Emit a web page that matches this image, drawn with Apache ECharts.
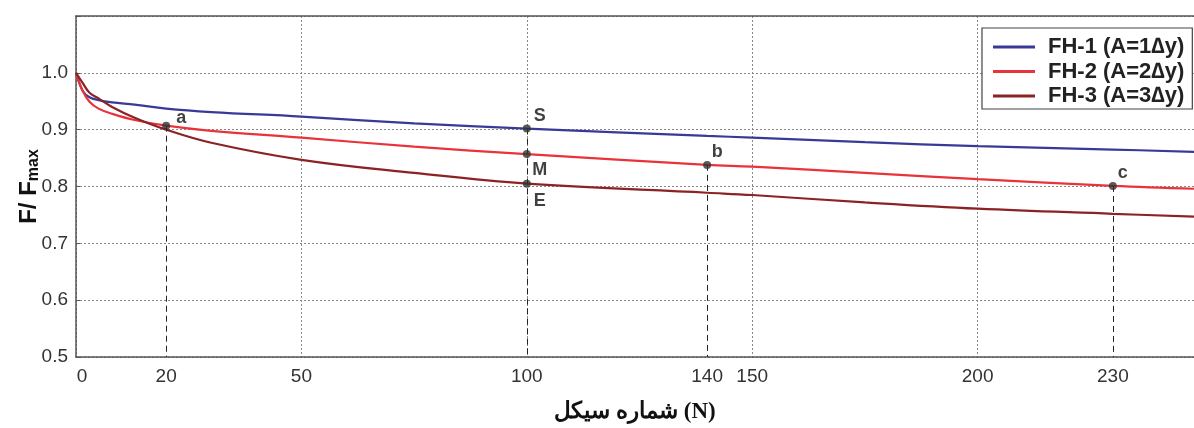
<!DOCTYPE html>
<html>
<head>
<meta charset="utf-8">
<style>html,body{margin:0;padding:0;background:#fff;}#chart{width:1194px;height:428px;}</style>
<script src="https://cdn.jsdelivr.net/npm/echarts@6/dist/echarts.min.js"></script>
</head>
<body>
<div id="chart"></div>
<script>
// ---- data ----
const cycles = [0, 1.5, 3, 5, 8, 13, 20, 30, 50, 75, 100, 140, 150, 175, 200, 230, 248];
const fh1 = [1.0, 0.968, 0.957, 0.952, 0.948, 0.944, 0.937, 0.931, 0.923, 0.911, 0.902, 0.889, 0.886, 0.878, 0.871, 0.865, 0.861];
const fh2 = [1.0, 0.968, 0.949, 0.937, 0.928, 0.917, 0.907, 0.898, 0.886, 0.870, 0.857, 0.838, 0.835, 0.824, 0.813, 0.801, 0.796];
const fh3 = [1.0, 0.982, 0.965, 0.955, 0.940, 0.921, 0.900, 0.877, 0.847, 0.824, 0.805, 0.789, 0.785, 0.772, 0.761, 0.752, 0.747];
const seriesNames = ['FH-1 (A=1\u2206y)', 'FH-2 (A=2\u2206y)', 'FH-3 (A=3\u2206y)'];
const xTickLabels = [0, 20, 50, 100, 140, 150, 200, 230];
const yTickLabels = [0.5, 0.6, 0.7, 0.8, 0.9, 1.0];
const pointNames = ['a', 'S', 'M', 'E', 'b', 'c'];
const pointN = [20, 100, 100, 100, 140, 230];
const pointF = [0.907, 0.902, 0.857, 0.805, 0.838, 0.801];
const dropNames = ['a', 'S', 'b', 'c'];

const colors = ['#383a98', '#e8333b', '#8c2224'];
const labelOffsets = {a: [15, -8], S: [13, -12], M: [13, 16], E: [13, 17], b: [10, -13], c: [10, -13]};

const toPairs = ys => cycles.map((n, i) => [n, ys[i]]);
const lineSeries = [fh1, fh2, fh3].map((ys, i) => ({
  name: seriesNames[i], type: 'line', data: toPairs(ys), smooth: 0.4,
  showSymbol: false, lineStyle: {color: colors[i], width: 2.2}, itemStyle: {color: colors[i]}, z: 3
}));

const dropLines = dropNames.map(nm => {
  const k = pointNames.indexOf(nm);
  return [{coord: [pointN[k], pointF[k]]}, {coord: [pointN[k], 0.5]}];
});

const pointData = pointNames.map((nm, k) => ({
  name: nm, value: [pointN[k], pointF[k]],
  label: {position: [4 + labelOffsets[nm][0], 4 + labelOffsets[nm][1]]}
}));

const chart = echarts.init(document.getElementById('chart'), null, {renderer: 'canvas'});
chart.setOption({
  animation: false,
  backgroundColor: '#fff',
  grid: {left: 76, right: 0, top: 16, bottom: 71, containLabel: false, outerBoundsMode: 'none'},
  legend: {
    data: seriesNames, orient: 'vertical', left: 982, top: 28,
    backgroundColor: '#fff', borderColor: '#444', borderWidth: 1.2,
    padding: [8, 8, 2, 11], itemGap: 2.5, itemWidth: 42, itemHeight: 3, icon: 'rect',
    textStyle: {fontFamily: 'Liberation Sans, Arial, sans-serif', fontWeight: 'bold', fontSize: 22, color: '#222', lineHeight: 22, padding: [0, 0, 0, 8]}
  },
  xAxis: [{
    type: 'value', min: 0, max: 248, interval: 50,
    name: '\u0634\u0645\u0627\u0631\u0647 \u0633\u06CC\u06A9\u0644 (N)', nameLocation: 'middle', nameGap: 44, nameMoveOverlap: false,
    nameTextStyle: {fontFamily: 'Liberation Serif, DejaVu Serif, serif', fontWeight: 'bold', fontSize: 23, color: '#111'},
    axisLine: {show: true, lineStyle: {color: '#555', width: 1.5}},
    axisTick: {show: false},
    axisLabel: {customValues: xTickLabels, fontFamily: 'Liberation Sans, Arial, sans-serif', fontSize: 19, color: '#333', margin: 10,
      formatter: v => (v === 0 ? '{z|0}' : String(v)),
      rich: {z: {fontFamily: 'Liberation Sans, Arial, sans-serif', fontSize: 19, color: '#333', padding: [0, 0, 0, 12]}}},
    splitLine: {show: true, lineStyle: {color: '#888', type: [2, 2], width: 1}}
  }, {
    type: 'value', position: 'top', min: 0, max: 248,
    axisLine: {show: true, onZero: false, lineStyle: {color: '#555', width: 1.5}},
    axisTick: {show: false}, axisLabel: {show: false}, splitLine: {show: false}
  }],
  yAxis: {
    type: 'value', min: 0.5, max: 1.1, interval: 0.1,
    name: 'F/ F{sub|max}', nameLocation: 'middle', nameGap: 34, nameMoveOverlap: false,
    nameTextStyle: {fontFamily: 'Liberation Sans, Arial, sans-serif', fontWeight: 'bold', fontSize: 24, color: '#111',
      rich: {sub: {fontFamily: 'Liberation Sans, Arial, sans-serif', fontWeight: 'bold', fontSize: 16, color: '#111', verticalAlign: 'bottom', padding: [9, 0, 0, 0]}}},
    axisLine: {show: true, lineStyle: {color: '#555', width: 1.5}},
    axisTick: {show: true, inside: true, length: 4, lineStyle: {color: '#555'}},
    axisLabel: {fontFamily: 'Liberation Sans, Arial, sans-serif', fontSize: 19, color: '#333', margin: 8,
      formatter: v => (yTickLabels.some(t => Math.abs(t - v) < 1e-6) ? v.toFixed(1) : '')},
    splitLine: {show: true, lineStyle: {color: '#888', type: [2, 2], width: 1}}
  },
  series: lineSeries.concat([{
    name: 'points', type: 'scatter', data: pointData, symbolSize: 8,
    itemStyle: {color: '#333'}, z: 5,
    label: {show: true, formatter: p => p.name, align: 'center', verticalAlign: 'middle',
      fontFamily: 'Liberation Sans, Arial, sans-serif', fontWeight: 'bold', fontSize: 18, color: '#111'},
    markLine: {silent: true, symbol: 'none', label: {show: false},
      lineStyle: {color: '#222', type: [6, 4], width: 1}, data: dropLines}
  }])
});
</script>
</body>
</html>
